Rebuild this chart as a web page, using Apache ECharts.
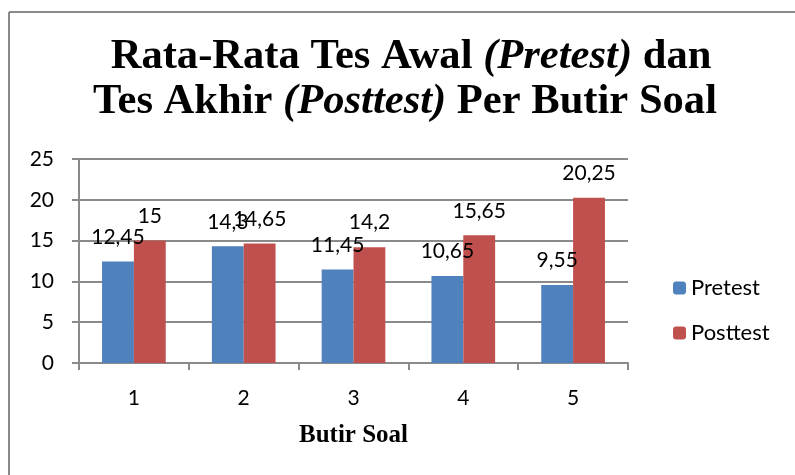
<!DOCTYPE html>
<html>
<head>
<meta charset="utf-8">
<script src="https://cdn.jsdelivr.net/npm/echarts@6/dist/echarts.min.js"></script>
<style>html,body{margin:0;padding:0;background:#fff}#c{width:795px;height:475px}</style>
</head>
<body>
<div id="c"></div>
<script>
const categories = ['1', '2', '3', '4', '5'];
const pretest = [12.45, 14.3, 11.45, 10.65, 9.55];
const posttest = [15, 14.65, 14.2, 15.65, 20.25];
const seriesNames = ['Pretest', 'Posttest'];
const yTicks = [0, 5, 10, 15, 20, 25];

const chart = echarts.init(document.getElementById('c'));
const fmt = p => String(p.value).replace('.', ',');
const lblFont = 'Lato, "Open Sans", sans-serif';
const serif = '"Liberation Serif", "Times New Roman", serif';
const titleRich = {
  b: {fontFamily: serif, fontWeight: 'bold', fontSize: 43, fill: '#000'},
  i: {fontFamily: serif, fontWeight: 'bold', fontStyle: 'italic', fontSize: 43, fill: '#000'}
};
chart.setOption({
  animation: false,
  backgroundColor: '#fff',
  graphic: [
    {type: 'line', shape: {x1: 9, y1: 12, x2: 795, y2: 12}, style: {stroke: '#8a8a8a', lineWidth: 2}},
    {type: 'line', shape: {x1: 9, y1: 12, x2: 9, y2: 475}, style: {stroke: '#8a8a8a', lineWidth: 2}},
    {type: 'text', x: 411, y: 57, scaleX: 0.99, style: {
      text: '{b|Rata-Rata Tes Awal }{i|(Pretest)}{b| dan}',
      textAlign: 'center', textVerticalAlign: 'middle', rich: titleRich
    }},
    {type: 'text', x: 405, y: 102, scaleX: 0.99, style: {
      text: '{b|Tes Akhir }{i|(Posttest)}{b| Per Butir Soal}',
      textAlign: 'center', textVerticalAlign: 'middle', rich: titleRich
    }}
  ],
  grid: {left: 79, right: 167, top: 159, bottom: 112},
  legend: {
    orient: 'vertical', left: 668, top: 272, itemWidth: 13, itemHeight: 13, itemGap: 23,
    data: seriesNames,
    textStyle: {fontFamily: lblFont, fontSize: 22, color: '#000', padding: [0, 0, 0, 0]}
  },
  xAxis: {
    type: 'category', data: categories,
    name: 'Butir Soal', nameLocation: 'middle', nameGap: 60,
    nameTextStyle: {fontFamily: serif, fontWeight: 'bold', fontSize: 25, color: '#000'},
    axisLine: {lineStyle: {color: '#8a8a8a', width: 2}},
    axisTick: {show: true, length: 7, lineStyle: {color: '#8a8a8a', width: 2}},
    axisLabel: {margin: 25, fontFamily: lblFont, fontSize: 21, color: '#000'}
  },
  yAxis: {
    type: 'value', min: yTicks[0], max: yTicks[yTicks.length - 1], interval: 5,
    axisLine: {show: true, lineStyle: {color: '#8a8a8a', width: 2}},
    axisTick: {show: true, length: 7, lineStyle: {color: '#8a8a8a', width: 2}},
    splitLine: {lineStyle: {color: '#8a8a8a', width: 2}},
    axisLabel: {margin: 25, fontFamily: lblFont, fontSize: 21, color: '#000'}
  },
  series: [
    {name: seriesNames[0], type: 'bar', data: pretest, barWidth: '29%', barGap: '0%',
     itemStyle: {color: '#4F81BD'},
     label: {show: true, position: 'top', distance: 14, formatter: fmt, fontFamily: lblFont, fontSize: 21, color: '#000'}},
    {name: seriesNames[1], type: 'bar', data: posttest, barWidth: '29%',
     itemStyle: {color: '#C0504D'},
     label: {show: true, position: 'top', distance: 14, formatter: fmt, fontFamily: lblFont, fontSize: 21, color: '#000'}}
  ]
});
</script>
</body>
</html>
